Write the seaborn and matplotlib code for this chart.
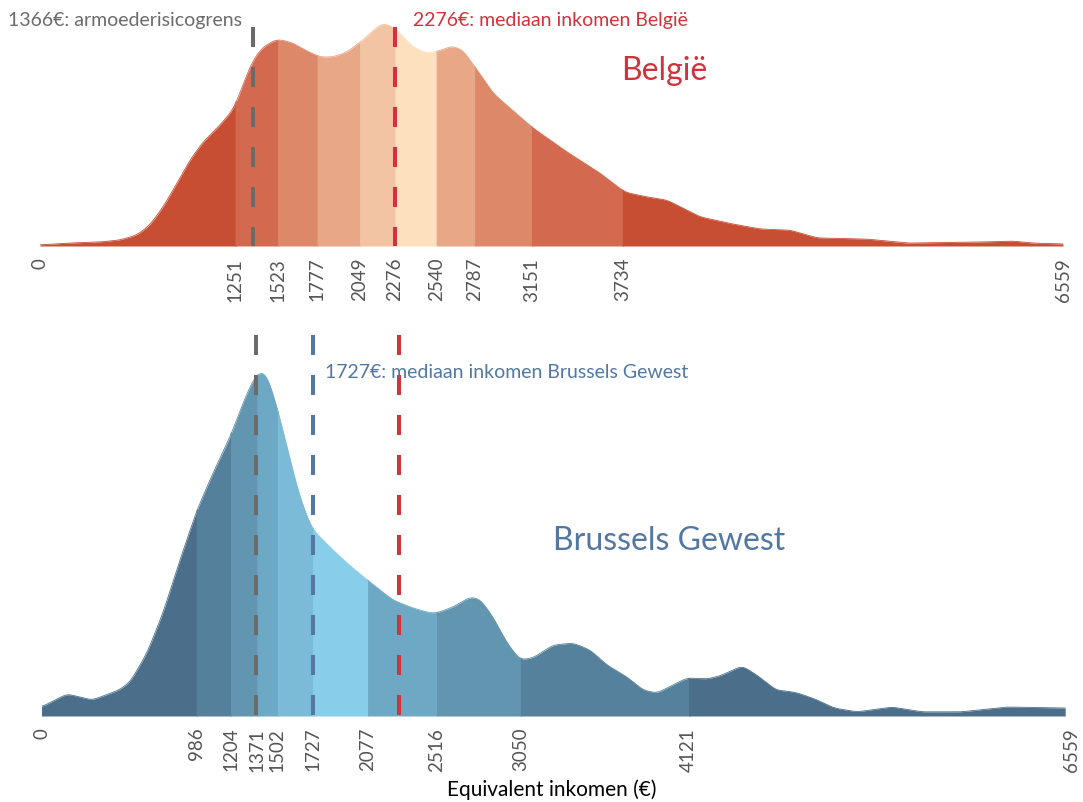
import matplotlib
matplotlib.use("Agg")
import matplotlib.pyplot as plt
import numpy as np
import pandas as pd
import seaborn as sns

# inkomen (€) en relatieve dichtheid
be_inkomen = [0, 180, 385, 513, 622, 705, 789, 878, 962, 1045, 1154, 1237, 1282, 1327,
              1378, 1430, 1507, 1552, 1622, 1712, 1795, 1879, 1968, 2071, 2161, 2199,
              2263, 2308, 2392, 2481, 2552, 2642, 2712, 2802, 2904, 3013, 3161, 3379,
              3590, 3751, 3892, 4020, 4148, 4232, 4443, 4616, 4809, 4982, 5302, 5559,
              6046, 6238, 6367, 6559]
be_dichtheid = [0.005, 0.013, 0.018, 0.027, 0.049, 0.094, 0.174, 0.28, 0.384, 0.464, 0.54,
                0.607, 0.683, 0.77, 0.844, 0.888, 0.92, 0.92, 0.906, 0.87, 0.844, 0.844,
                0.866, 0.92, 0.978, 0.995, 0.978, 0.95, 0.888, 0.86, 0.87, 0.893, 0.875,
                0.786, 0.683, 0.616, 0.527, 0.42, 0.326, 0.24, 0.219, 0.205, 0.16, 0.13,
                0.098, 0.076, 0.071, 0.036, 0.031, 0.013, 0.018, 0.022, 0.013, 0.009]

bru_inkomen = [0, 162, 322, 494, 564, 672, 774, 882, 990, 1092, 1201, 1283, 1347, 1392,
               1436, 1500, 1564, 1627, 1691, 1729, 1838, 1946, 2092, 2239, 2366, 2474,
               2519, 2621, 2729, 2793, 2876, 2965, 3048, 3131, 3258, 3385, 3494, 3602,
               3729, 3831, 3920, 4022, 4111, 4239, 4322, 4462, 4557, 4678, 4799, 4927,
               5048, 5194, 5417, 5608, 5857, 6150, 6520]
bru_dichtheid = [0.026, 0.064, 0.046, 0.075, 0.098, 0.182, 0.298, 0.451, 0.595, 0.702,
                 0.806, 0.905, 0.971, 0.997, 0.986, 0.893, 0.777, 0.662, 0.575, 0.538,
                 0.488, 0.442, 0.387, 0.335, 0.312, 0.298, 0.298, 0.315, 0.344, 0.338,
                 0.286, 0.211, 0.162, 0.168, 0.205, 0.211, 0.191, 0.147, 0.113, 0.075,
                 0.066, 0.09, 0.11, 0.107, 0.116, 0.145, 0.118, 0.075, 0.069, 0.049,
                 0.023, 0.012, 0.026, 0.012, 0.012, 0.026, 0.023]

# decielgrenzen
be_grenzen = [0, 1251, 1523, 1777, 2049, 2276, 2540, 2787, 3151, 3734, 6559]
bru_grenzen = [0, 986, 1204, 1371, 1502, 1727, 2077, 2516, 3050, 4121, 6559]

be_kleuren = ['#C84E33', '#D36A4F', '#DD8869', '#E8A888', '#F3C4A3',
              '#FDE1BF', '#E8A888', '#DD8869', '#D36A4F', '#C84E33']
bru_kleuren = ['#4B6F8A', '#55809B', '#6195B0', '#6DA8C5', '#7CBBD8',
               '#88CEEA', '#6DA8C5', '#6195B0', '#56819C', '#4B6F8A']

armoedegrens = 1366
mediaan_be = 2276
mediaan_bru = 1727

GRIJS = '#6B6B6B'
ROOD = '#D2323A'
BLAUW = '#5177A2'
W, H = 1083, 802


def glad(x_pts, y_pts):
    grid = np.arange(0, max(x_pts) + 1, 1.0)
    y = np.interp(grid, x_pts, y_pts)
    s = 22
    k = np.exp(-0.5 * (np.arange(-4 * s, 4 * s + 1) / s) ** 2)
    k /= k.sum()
    y_pad = np.pad(y, 4 * s, mode='edge')
    y = np.convolve(y_pad, k, mode='valid')
    return pd.DataFrame({'inkomen': grid, 'dichtheid': y})


def teken_banden(ax, df, grenzen, kleuren):
    for i, kleur in enumerate(kleuren):
        a, b = grenzen[i], grenzen[i + 1]
        deel = df[(df.inkomen >= a) & (df.inkomen <= b + 8)]
        ax.fill_between(deel.inkomen, 0, deel.dichtheid, color=kleur, lw=0)
        sns.lineplot(data=deel, x='inkomen', y='dichtheid', ax=ax, color=kleur,
                     lw=0.6, estimator=None, sort=False)


def streep(ax, x, top, kleur):
    ax.plot([x, x], [top, 0], color=kleur, lw=2.9, linestyle=(0, (14.4, 14.4)),
            dash_capstyle='butt', zorder=5)


def opmaak(ax, grenzen, ymax, pad):
    ax.set_xlim(0, 6559)
    ax.set_ylim(0, ymax)
    ax.set_xticks(grenzen)
    ax.set_xticklabels([str(g) for g in grenzen], rotation=90, fontsize=13.5,
                       color='#555555')
    ax.tick_params(axis='x', length=0, pad=pad)
    ax.set_yticks([])
    ax.set_xlabel('')
    ax.set_ylabel('')
    for s in ax.spines.values():
        s.set_visible(False)
    ax.patch.set_alpha(0)


def tekst(fig, x, y, s, **kw):
    fig.text(x / W, 1 - y / H, s, **kw)


sns.set_theme(style="white")
plt.rcParams['font.family'] = ['Lato', 'DejaVu Sans']
plt.rcParams['lines.scale_dashes'] = False

fig = plt.figure(figsize=(W / 100, H / 100), dpi=100)
ax1 = fig.add_axes([40 / W, 1 - 246 / H, 1023 / W, 236 / H])
ax2 = fig.add_axes([41.5 / W, 1 - 716 / H, 1029.8 / W, 386 / H])

be = glad(be_inkomen, be_dichtheid)
bru = glad(bru_inkomen, bru_dichtheid)

teken_banden(ax1, be, be_grenzen, be_kleuren)
teken_banden(ax2, bru, bru_grenzen, bru_kleuren)

top1 = (246 - 27) / 224
streep(ax1, armoedegrens, top1, GRIJS)
streep(ax1, mediaan_be, top1, ROOD)

top2 = (716 - 335) / 346
streep(ax2, armoedegrens, top2, GRIJS)
streep(ax2, mediaan_bru, top2, BLAUW)
streep(ax2, mediaan_be, top2, ROOD)

opmaak(ax1, be_grenzen, 236 / 224, 8.5)
opmaak(ax2, bru_grenzen, 386 / 346, 8.5)

tekst(fig, 242, 26, f'{armoedegrens}€: armoederisicogrens', color=GRIJS, fontsize=14,
      ha='right', va='baseline')
tekst(fig, 413, 26, f'{mediaan_be}€: mediaan inkomen België', color=ROOD, fontsize=14,
      ha='left', va='baseline')
tekst(fig, 621, 80, 'België', color=ROOD, fontsize=23, ha='left', va='baseline')
tekst(fig, 325, 378, f'{mediaan_bru}€: mediaan inkomen Brussels Gewest', color=BLAUW,
      fontsize=14, ha='left', va='baseline')
tekst(fig, 553, 550, 'Brussels Gewest', color=BLAUW, fontsize=23, ha='left', va='baseline')
tekst(fig, 552, 796, 'Equivalent inkomen (€)', color='black', fontsize=15,
      ha='center', va='baseline')

fig.savefig('out.png', dpi=100)
